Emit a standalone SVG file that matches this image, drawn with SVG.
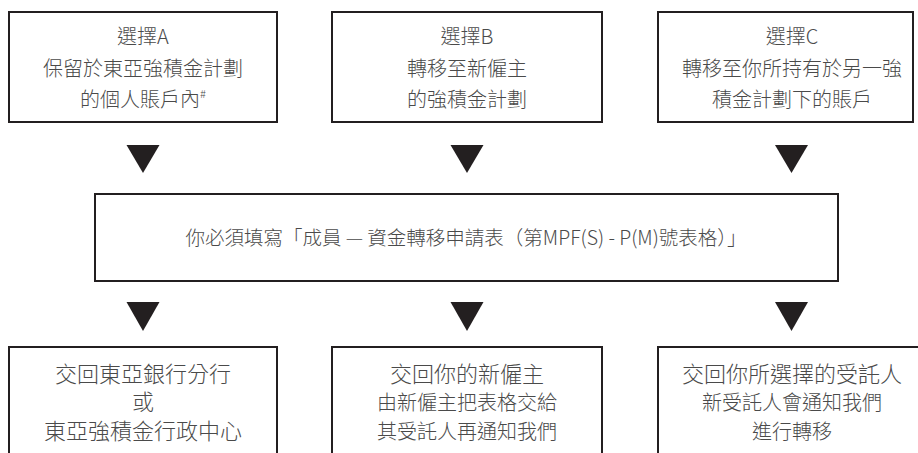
<svg xmlns="http://www.w3.org/2000/svg" width="918" height="453" viewBox="0 0 918 453">
<style>
.box{fill:#fff;stroke:#231f20;stroke-width:2}
.t{font-family:"Noto Sans CJK TC","Liberation Sans",sans-serif;fill:#4a4a4a;text-anchor:middle;font-weight:300}
.s20{font-size:20px}
.s22{font-size:22px}
.s19{font-size:19.5px}
.arr{fill:#231f20}
</style>
<rect width="918" height="453" fill="#fff"/>
<g id="optA">
<rect class="box" x="9" y="12" width="268" height="110"/>
<text class="t s20" x="143" y="44">選擇A</text>
<text class="t s20" x="143" y="76">保留於東亞強積金計劃</text>
<text class="t s20" x="143" y="107">的個人賬戶內<tspan font-size="11" dy="-9">#</tspan></text>
</g>
<g id="optB">
<rect class="box" x="332" y="12" width="270" height="110"/>
<text class="t s20" x="467" y="44">選擇B</text>
<text class="t s20" x="467" y="76">轉移至新僱主</text>
<text class="t s20" x="467" y="107">的強積金計劃</text>
</g>
<g id="optC">
<rect class="box" x="658" y="12" width="255" height="110"/>
<text class="t s20" x="792" y="44">選擇C</text>
<text class="t s20" x="792" y="76">轉移至你所持有於另一強</text>
<text class="t s20" x="792" y="107">積金計劃下的賬戶</text>
</g>
<g id="form">
<rect class="box" x="95" y="194" width="743" height="87"/>
<text class="t s19" x="466" y="245">你必須填寫「成員 — 資金轉移申請表（第MPF(S) - P(M)號表格）」</text>
</g>
<g id="retA">
<rect class="box" x="9" y="347" width="268" height="120"/>
<text class="t s22" x="143" y="382">交回東亞銀行分行</text>
<text class="t s22" x="143" y="410">或</text>
<text class="t s22" x="143" y="439">東亞強積金行政中心</text>
</g>
<g id="retB">
<rect class="box" x="332" y="347" width="270" height="120"/>
<text class="t s22" x="467" y="382">交回你的新僱主</text>
<text class="t s20" x="467" y="410">由新僱主把表格交給</text>
<text class="t s20" x="467" y="439">其受託人再通知我們</text>
</g>
<g id="retC">
<rect class="box" x="658" y="347" width="270" height="120"/>
<text class="t s22" x="792" y="382">交回你所選擇的受託人</text>
<text class="t s20" x="792" y="410">新受託人會通知我們</text>
<text class="t s20" x="792" y="439">進行轉移</text>
</g>
<g id="connectors">
<polygon class="arr" points="126.5,145 159.5,145 143,173"/>
<polygon class="arr" points="450.5,145 483.5,145 467,173"/>
<polygon class="arr" points="775,145 808,145 791.5,173"/>
<polygon class="arr" points="126.5,302 159.5,302 143,331"/>
<polygon class="arr" points="450.5,302 483.5,302 467,331"/>
<polygon class="arr" points="775,302 808,302 791.5,331"/>
</g>
</svg>
